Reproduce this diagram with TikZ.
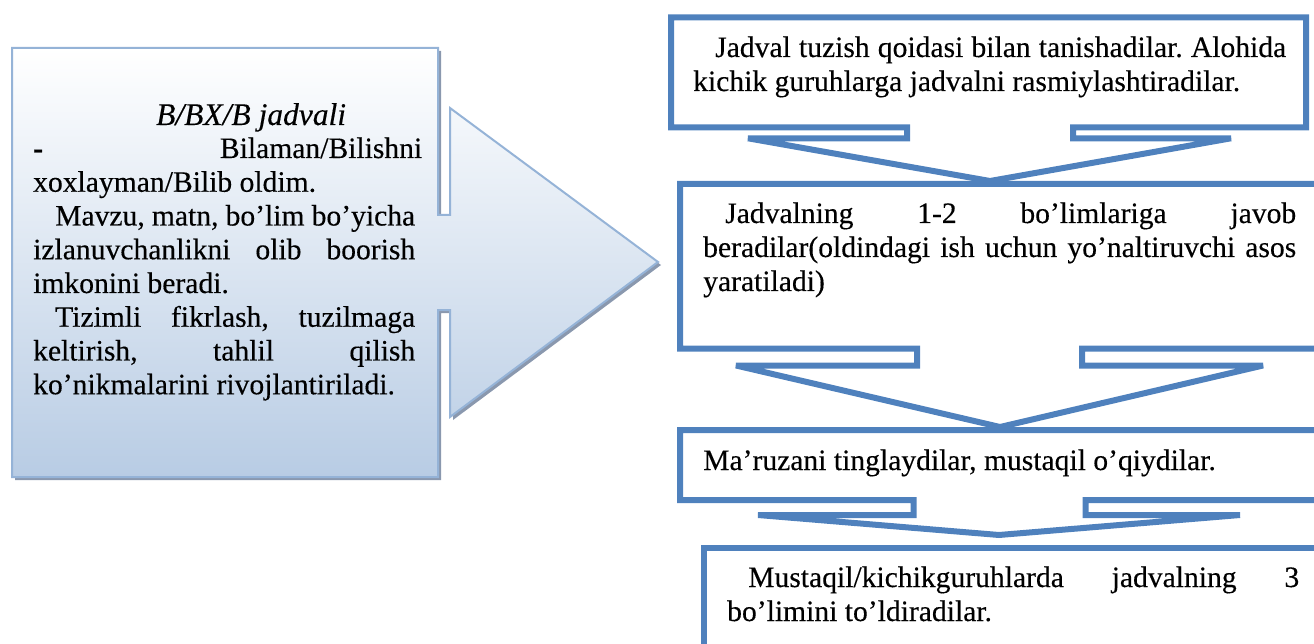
\documentclass[tikz,border=0pt]{standalone}
\usepackage{fontspec}
\setmainfont{Liberation Serif}[FakeBold=0.3]
\frenchspacing
\definecolor{accent}{HTML}{4F81BD}
\definecolor{lborder}{HTML}{95B3D7}
\definecolor{lbottom}{HTML}{B8CCE4}
\definecolor{shad}{RGB}{138,152,174}
\newcommand{\justline}[2]{\makebox[#1][s]{#2}}
\tikzset{
  callout/.style={draw=accent, line width=6pt, line join=miter, miter limit=2},
  txt/.style={anchor=base west, inner sep=0pt, font=\fontsize{29.6}{34}\selectfont},
  ltxt/.style={anchor=base west, inner sep=0pt, font=\fontsize{29.6}{33.75}\selectfont},
}
\begin{document}
\begin{tikzpicture}[x=1pt,y=-1pt]
\useasboundingbox (0,0) rectangle (1314,644);
\begin{scope}
\clip (0,0) rectangle (1314,644);
% left arrow callout: shadow, shaded body, border
\fill[shad, shift={(3,3)}] (12,48) -- (438,48) -- (438,215) -- (450,215) -- (450,108) -- (658,262) -- (450,417) -- (450,310) -- (438,310) -- (438,477) -- (12,477) -- cycle;
\shade[top color=white, bottom color=lbottom] (12,48) -- (438,48) -- (438,215) -- (450,215) -- (450,108) -- (658,262) -- (450,417) -- (450,310) -- (438,310) -- (438,477) -- (12,477) -- cycle;
\draw[lborder, line width=2pt, line join=miter] (12,48) -- (438,48) -- (438,215) -- (450,215) -- (450,108) -- (658,262) -- (450,417) -- (450,310) -- (438,310) -- (438,477) -- (12,477) -- cycle;
% right down-arrow callouts
\draw[callout] (671,17.5) -- (1306,17.5) -- (1306,127.5) -- (1073,127.5) -- (1073,138.3) -- (1231,138.3) -- (990,181) -- (748,138.3) -- (907,138.3) -- (907,127.5) -- (671,127.5) -- cycle;
\draw[callout] (680,184) -- (1340,184) -- (1340,348.5) -- (1082,348.5) -- (1082,365.5) -- (1263,365.5) -- (1000,427) -- (736,365.5) -- (917,365.5) -- (917,348.5) -- (680,348.5) -- cycle;
\draw[callout] (680,430) -- (1340,430) -- (1340,500) -- (1085.5,500) -- (1085.5,515) -- (1240,515) -- (999,535) -- (758,515) -- (913.5,515) -- (913.5,500) -- (680,500) -- cycle;
\draw[callout] (1340,548) -- (704,548) -- (704,670);
\end{scope}
% left text
\node[ltxt, font=\fontsize{31.5}{34}\selectfont] (lt) at (156,125) {\itshape B/BX/B jadvali};
\node[ltxt] (lb) at (33,158) {\parbox[t]{420pt}{%
\justline{389pt}{\textbf{-} Bilaman/Bilishni}\par\noindent
xoxlayman/Bilib oldim.\par\noindent
\hspace*{22pt}\justline{360pt}{Mavzu, matn, bo’lim bo’yicha}\par\noindent
\justline{382pt}{izlanuvchanlikni olib boorish}\par\noindent
imkonini beradi.\par\noindent
\hspace*{22pt}\justline{360pt}{Tizimli fikrlash, tuzilmaga}\par\noindent
\justline{382pt}{keltirish, tahlil qilish}\par\noindent
ko’nikmalarini rivojlantiriladi.}};
% right texts
\node[txt] (r1) at (693,57) {\parbox[t]{620pt}{%
\hspace*{22pt}\justline{571pt}{Jadval tuzish qoidasi bilan tanishadilar. Alohida}\par\noindent
kichik guruhlarga jadvalni rasmiylashtiradilar.}};
\node[txt] (r2) at (703,223) {\parbox[t]{620pt}{%
\hspace*{22pt}\justline{571pt}{Jadvalning 1-2 bo’limlariga javob}\par\noindent
\justline{593pt}{beradilar(oldindagi ish uchun yo’naltiruvchi asos}\par\noindent
yaratiladi)}};
\node[txt] (r3) at (703,470) {Ma’ruzani tinglaydilar, mustaqil o’qiydilar.};
\node[txt] (r4) at (727,587) {\parbox[t]{620pt}{%
\hspace*{21pt}\justline{551pt}{Mustaqil/kichikguruhlarda jadvalning 3}\par\noindent
bo’limini to’ldiradilar.}};
\end{tikzpicture}
\end{document}
